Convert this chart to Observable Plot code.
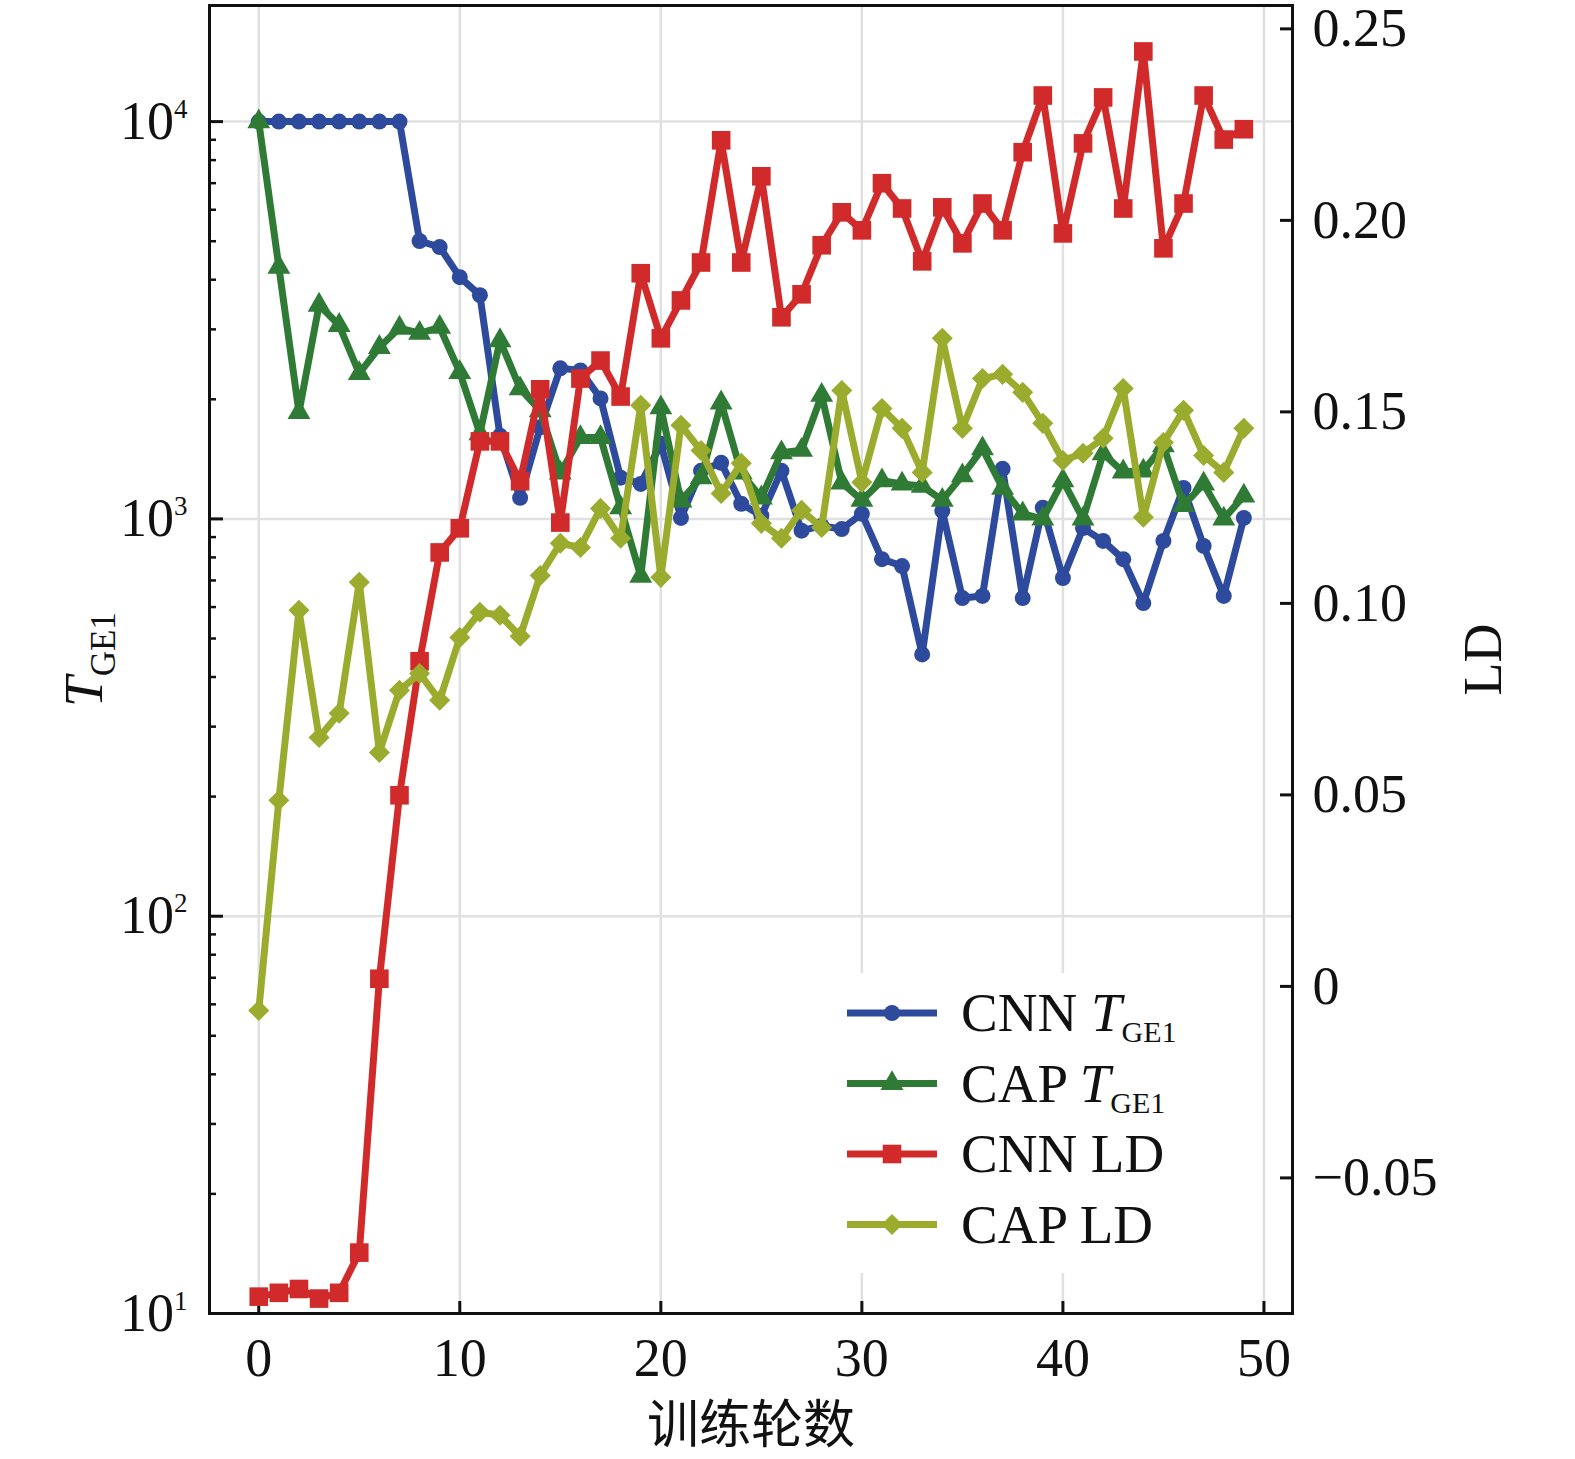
<!DOCTYPE html>
<html><head><meta charset="utf-8">
<script src="https://cdn.jsdelivr.net/npm/d3@7"></script>
<script src="https://cdn.jsdelivr.net/npm/@observablehq/plot@0.6"></script>
<style>
html,body{margin:0;padding:0;background:#fff;}
#wrap{position:relative;width:1575px;height:1459px;overflow:hidden;}
#wrap svg{position:absolute;left:0;top:0;}
</style></head><body><div id="wrap"></div>
<script>
// ---------- data ----------
const epochs = [0,1,2,3,4,5,6,7,8,9,10,11,12,13,14,15,16,17,18,19,20,21,22,23,24,25,26,27,28,29,30,31,32,33,34,35,36,37,38,39,40,41,42,43,44,45,46,47,48,49];
const cnnTGE1 = [10000,10000,10000,10000,10000,10000,10000,10000,5006,4834,4060,3658,1620,1130,1700,2393,2365,2010,1270,1225,1545,1006,1321,1384,1092,1019,1321,934,960,943,1030,792,761,456,1048,632,640,1337,632,1067,710,948,880,792,614,880,1197,855,640,1006];
const capTGE1 = [10000,4305,1854,3453,3071,2323,2703,3022,2933,3037,2338,1640,2811,2128,1874,1306,1603,1603,1067,718,1905,1110,1270,1960,1306,1130,1468,1490,2048,1233,1115,1248,1225,1210,1115,1285,1503,1195,1030,1000,1248,1000,1459,1314,1321,1528,1081,1225,1000,1143];
const cnnLD = [-0.081,-0.080,-0.079,-0.0815,-0.080,-0.0695,0.002,0.0499,0.0849,0.1133,0.1196,0.1423,0.1423,0.1319,0.1559,0.1211,0.1587,0.1634,0.1540,0.1862,0.1692,0.1791,0.1890,0.2209,0.1890,0.2115,0.1747,0.1807,0.1935,0.2021,0.1974,0.2097,0.2031,0.1893,0.2034,0.1940,0.2044,0.1974,0.2178,0.2326,0.1966,0.2201,0.2321,0.2031,0.2441,0.1927,0.2044,0.2326,0.2211,0.2238];
const capLD = [-0.0063,0.0486,0.0982,0.0650,0.0713,0.1055,0.0611,0.0773,0.0817,0.0747,0.0911,0.0977,0.0969,0.0914,0.1073,0.1157,0.1146,0.1248,0.1170,0.1517,0.1068,0.1465,0.1399,0.1287,0.1366,0.1209,0.1170,0.1243,0.1198,0.1556,0.1316,0.1509,0.1457,0.1342,0.1692,0.1457,0.1587,0.1598,0.1551,0.1470,0.1373,0.1392,0.1431,0.1561,0.1225,0.1420,0.1504,0.1386,0.1342,0.1457];

const xTicks = [0,10,20,30,40,50];
const tgeMajor = [10,100,1000,10000];
const tgeExp = ["1","2","3","4"];
const tgeMinor = [20,30,40,50,60,70,80,90,200,300,400,500,600,700,800,900,2000,3000,4000,5000,6000,7000,8000,9000];
const ldTicks = [-0.05,0,0.05,0.10,0.15,0.20,0.25];
const ldTickLabels = ["\u22120.05","0","0.05","0.10","0.15","0.20","0.25"];
const xLabel = "训练轮数";
const yLeftLabel = ["T","GE1"];
const yRightLabel = "LD";
const legendItems = [
  {pre:"CNN ", it:"T", sub:"GE1"},
  {pre:"CAP ", it:"T", sub:"GE1"},
  {pre:"CNN LD", it:"", sub:""},
  {pre:"CAP LD", it:"", sub:""}
];

// ---------- style ----------
const C = {blue:"#2d4a9d", green:"#2f7b36", red:"#d12a2a", olive:"#9bab2d"};
const symbols = ["circle","triangle","square","diamond2"];
const symR = [8, 8.5, 10.5, 9.5];
const colors = [C.blue, C.green, C.red, C.olive];
const W = 1575, H = 1459;
const frameL = 209, frameR = 1292, frameT = 5, frameB = 1313;
const mL = frameL, mR = W - frameR, mT = frameT, mB = H - frameB;
const xDomain = [-2.45, 51.42];
const tgeDomain = [10, 19600];
const ldDomain = [-0.0854, 0.2561];
const serif = "'Liberation Serif', 'Times New Roman', serif";
const gridColor = "#e0e0e0";

const rows = vals => epochs.map((e, i) => ({epoch: e, v: vals[i]}));
const cnnTRows = rows(cnnTGE1), capTRows = rows(capTGE1);
const cnnLRows = rows(cnnLD), capLRows = rows(capLD);
const LW = 7;

const p1 = Plot.plot({
  width: W, height: H, marginLeft: mL, marginRight: mR, marginTop: mT, marginBottom: mB,
  style: {fontFamily: serif, fontSize: "54px", color: "#111", background: "white"},
  x: {domain: xDomain},
  y: {type: "log", domain: tgeDomain},
  marks: [
    Plot.gridX(xTicks, {stroke: gridColor, strokeOpacity: 1, strokeWidth: 2.5}),
    Plot.gridY(tgeMajor, {stroke: gridColor, strokeOpacity: 1, strokeWidth: 2.5}),
    Plot.line(cnnTRows, {x: "epoch", y: "v", stroke: C.blue, strokeWidth: LW}),
    Plot.dot(cnnTRows, {x: "epoch", y: "v", symbol: symbols[0], fill: C.blue, r: symR[0]}),
    Plot.line(capTRows, {x: "epoch", y: "v", stroke: C.green, strokeWidth: LW}),
    Plot.dot(capTRows, {x: "epoch", y: "v", symbol: symbols[1], fill: C.green, r: symR[1]}),
    Plot.axisX(xTicks, {tickSize: -12, strokeWidth: 3, stroke: "#111", tickFormat: () => "", label: null}),
    Plot.axisX(xTicks, {tickSize: 0, tickPadding: 24, tickFormat: d => String(d), label: null, fontSize: 54}),
    Plot.axisY(tgeMajor, {tickSize: -14, strokeWidth: 3, stroke: "#111", tickFormat: () => "", label: null}),
    Plot.axisY(tgeMinor, {tickSize: -7, strokeWidth: 2.5, stroke: "#111", tickFormat: () => "", label: null}),
    Plot.axisY(tgeMajor, {tickSize: 0, tickPadding: 22, tickFormat: () => "10", label: null, fontSize: 54}),
    Plot.text([xLabel], {frameAnchor: "bottom", dy: 113, text: d => d, fontFamily: "'Noto Sans CJK SC'", fontSize: 52, lineAnchor: "middle", textAnchor: "middle", fill: "#111"}),
    Plot.text([yLeftLabel[0]], {frameAnchor: "left", dx: -125, rotate: -90, text: d => d, fontSize: 55, lineAnchor: "middle", textAnchor: "middle", fill: "#111"})
  ]
});

const p2 = Plot.plot({
  width: W, height: H, marginLeft: mL, marginRight: mR, marginTop: mT, marginBottom: mB,
  style: {fontFamily: serif, fontSize: "54px", color: "#111", background: "transparent"},
  x: {domain: xDomain, axis: null},
  y: {domain: ldDomain},
  marks: [
    Plot.line(cnnLRows, {x: "epoch", y: "v", stroke: C.red, strokeWidth: LW}),
    Plot.dot(cnnLRows, {x: "epoch", y: "v", symbol: symbols[2], fill: C.red, r: symR[2]}),
    Plot.line(capLRows, {x: "epoch", y: "v", stroke: C.olive, strokeWidth: LW}),
    Plot.dot(capLRows, {x: "epoch", y: "v", symbol: symbols[3], fill: C.olive, r: symR[3]}),
    Plot.axisY(ldTicks, {anchor: "right", tickSize: -13, strokeWidth: 3, stroke: "#111", tickFormat: () => "", label: null}),
    Plot.axisY(ldTicks, {anchor: "right", tickSize: 0, tickPadding: 20, tickFormat: d => ldTickLabels[ldTicks.indexOf(d)], label: null, fontSize: 54}),
    Plot.text([yRightLabel], {frameAnchor: "right", dx: 191, rotate: -90, text: d => d, fontSize: 54, lineAnchor: "middle", textAnchor: "middle", fill: "#111"}),
    Plot.frame({stroke: "#111", strokeWidth: 3})
  ]
});

const wrap = document.getElementById("wrap");
wrap.appendChild(p1);
wrap.appendChild(p2);

// superscripts on log tick labels (left y axis only)
let k = 0;
p1.querySelectorAll("g[aria-label='y-axis tick label'] text").forEach(t => {
  if (t.textContent === "10" && k < tgeExp.length) {
    const ts = document.createElementNS("http://www.w3.org/2000/svg", "tspan");
    ts.setAttribute("dy", "-21");
    ts.setAttribute("font-size", "27");
    ts.textContent = tgeExp[k++];
    t.appendChild(ts);
  }
});
// italic T with subscript for the left axis title
p1.querySelectorAll("text").forEach(t => {
  if (t.textContent === yLeftLabel[0]) {
    t.textContent = "";
    const a = document.createElementNS("http://www.w3.org/2000/svg", "tspan");
    a.setAttribute("font-style", "italic");
    a.textContent = yLeftLabel[0];
    const b = document.createElementNS("http://www.w3.org/2000/svg", "tspan");
    b.setAttribute("font-size", "35");
    b.setAttribute("dy", "13");
    b.textContent = yLeftLabel[1];
    t.appendChild(a); t.appendChild(b);
  }
});

// legend
const leg = d3.select(p2).insert("g", "g[aria-label='frame']").attr("class", "legend");
leg.append("rect").attr("x", 836).attr("y", 973).attr("width", 350).attr("height", 300).attr("fill", "white");
const symMap = {circle: d3.symbolCircle, triangle: d3.symbolTriangle, square: d3.symbolSquare, diamond2: d3.symbolDiamond2};
legendItems.forEach((it, i) => {
  const yy = 1013 + i * 70.5;
  leg.append("line").attr("x1", 847).attr("x2", 937).attr("y1", yy).attr("y2", yy)
    .attr("stroke", colors[i]).attr("stroke-width", LW);
  leg.append("path").attr("transform", `translate(892,${yy})`)
    .attr("d", d3.symbol(symMap[symbols[i]], Math.PI * symR[i] * symR[i])())
    .attr("fill", colors[i]);
  const tx = leg.append("text").attr("x", 961).attr("y", yy + 18)
    .attr("text-anchor", "start")
    .attr("font-family", serif).attr("font-size", 55).attr("fill", "#111");
  tx.append("tspan").text(it.pre);
  if (it.it) {
    tx.append("tspan").attr("font-style", "italic").text(it.it);
    tx.append("tspan").attr("font-size", 30).attr("dy", 11).text(it.sub);
  }
});
</script></body></html>
